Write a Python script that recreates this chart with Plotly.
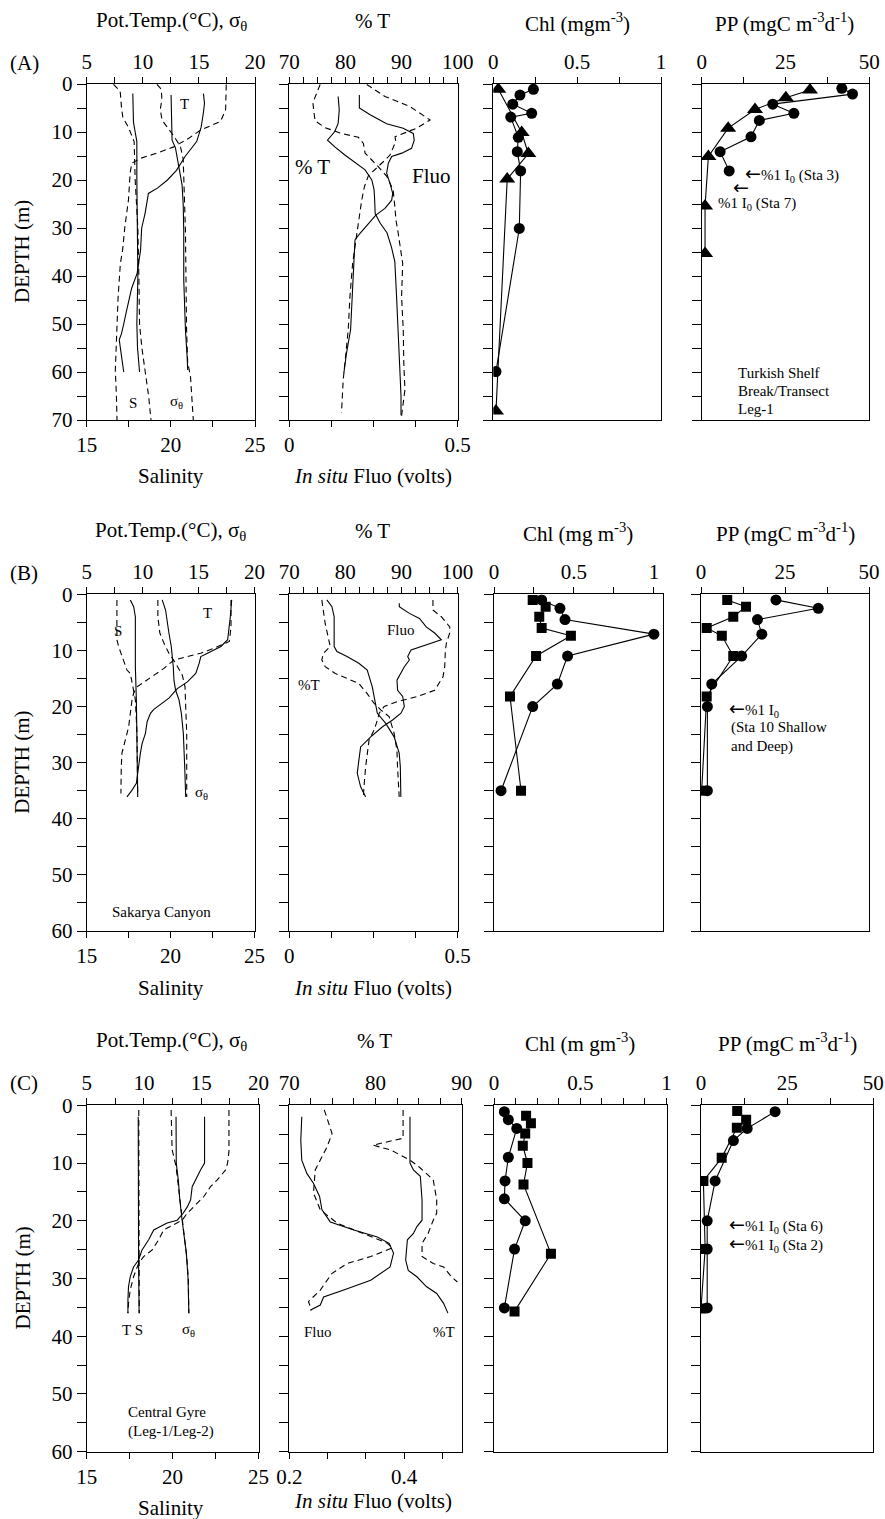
import plotly.graph_objects as go

FONT = "Liberation Serif"
W, H = 885, 1519

# ================= DATA =================
# ---- (A) Turkish shelf break / transect, Leg-1 ----
# potential temperature (deg C) vs depth (m)
A_TEMP_SOLID_D = [2, 4, 6, 9, 12, 15, 18, 20, 21.7, 22.8, 27, 30, 34.6, 37.4, 39.4, 42.6, 45, 47.8, 50, 52, 53.3, 56.8, 60]
A_TEMP_SOLID = [15.4, 15.5, 15.4, 15.2, 14.8, 13.8, 13.0, 12.2, 11.3, 10.5, 10.2, 9.9, 9.8, 9.6, 9.5, 9.0, 8.8, 8.5, 8.3, 8.1, 7.9, 8.1, 8.3]
A_TEMP_DASH_D = [0.1, 5.4, 7.8, 9.6, 11.3, 13.1, 14.4, 15.5, 16.5, 18.6, 24.2, 29.8, 34.6, 37.4, 44.3, 50, 54.7, 59.6, 65, 70]
A_TEMP_DASH = [17.44, 17.38, 16.93, 15.15, 14.10, 12.75, 11.26, 9.77, 9.02, 8.87, 8.72, 8.4, 8.2, 8.0, 7.8, 7.7, 7.6, 7.55, 7.65, 7.7]
# salinity
A_SAL_SOLID_D = [2, 8, 10, 12, 20, 30, 40, 50, 55, 60]
A_SAL_SOLID = [17.74, 17.78, 17.88, 17.98, 17.98, 18.02, 18.04, 17.98, 18.02, 18.14]
A_SAL_DASH_D = [0.1, 1.5, 5, 7, 9, 12, 20, 30, 40, 50, 55, 60, 65, 70]
A_SAL_DASH = [16.59, 16.99, 17.07, 17.15, 17.48, 17.82, 17.88, 18.04, 18.10, 18.14, 18.28, 18.48, 18.68, 18.82]
# sigma-theta
A_SIG_SOLID_D = [2.3, 6.6, 11.7, 13.3, 17, 21, 25, 30.6, 40.8, 51.2, 56.8, 59.6]
A_SIG_SOLID = [12.52, 12.55, 12.61, 12.91, 13.2, 13.5, 13.6, 13.65, 13.65, 13.8, 13.95, 14.0]
A_SIG_DASH_D = [0.1, 1.1, 3.2, 5.3, 7.3, 8, 10.8, 13, 15.6, 24, 30.6, 51, 58, 60.9, 66.5, 70]
A_SIG_DASH = [11.26, 11.65, 11.7, 11.56, 11.7, 11.86, 12.75, 13.35, 13.6, 13.7, 13.8, 13.9, 14.0, 14.25, 14.4, 14.5]
# beam transmission (%)
A_PT_SOLID_D = [2.6, 5.4, 8.2, 9.9, 11.7, 13.1, 14.8, 16.5, 17.9, 20, 22, 24, 27, 29, 31, 34, 37, 44, 51, 58, 65, 69]
A_PT_SOLID = [78.7, 78.9, 78.7, 78.1, 76.8, 78.1, 79.9, 82.0, 83.5, 84.7, 85.1, 85.2, 85.3, 86.2, 87.4, 88.2, 88.8, 89.1, 89.4, 89.6, 89.9, 89.9]
A_PT_DASH_D = [0.1, 1.8, 3.9, 6, 7.7, 9.1, 10.3, 11.1, 12.4, 14.4, 16.9, 19.3, 22.1, 25.5, 28.3, 31.1, 33.9, 37.4, 44.3, 51.2, 58.2, 63.7, 69.2]
A_PT_DASH = [75.5, 74.9, 74.2, 74.4, 74.6, 76.4, 79.3, 82.3, 83.2, 83.5, 85.6, 87.4, 88.5, 88.8, 89.0, 89.4, 89.7, 90.2, 90.0, 90.3, 90.4, 90.6, 90.0]
# in situ fluorescence (volts)
A_FL_SOLID_D = [2.3, 5, 6.4, 8.3, 9.2, 10.3, 11.7, 13.4, 14.4, 15.1, 16.5, 18.6, 20.7, 22.8, 24.2, 25.9, 27.3, 29, 31.1, 32.5, 37.4, 44.3, 51.2, 56, 60.2]
A_FL_SOLID = [0.208, 0.208, 0.24, 0.289, 0.338, 0.368, 0.371, 0.363, 0.334, 0.304, 0.294, 0.289, 0.299, 0.307, 0.304, 0.284, 0.257, 0.235, 0.21, 0.195, 0.192, 0.188, 0.182, 0.170, 0.162]
A_FL_DASH_D = [0.1, 2.6, 4.7, 7.5, 9.2, 11, 12, 14.8, 16.2, 17.4, 19.1, 21.4, 24.2, 27.6, 31.1, 33.9, 37.4, 44.3, 51.2, 58.2, 61.7, 68.5]
A_FL_DASH = [0.23, 0.284, 0.358, 0.418, 0.378, 0.314, 0.316, 0.299, 0.279, 0.26, 0.235, 0.223, 0.215, 0.208, 0.202, 0.195, 0.188, 0.180, 0.175, 0.165, 0.160, 0.155]
# bottle chlorophyll (mg m-3): Sta 3 (circles), Sta 7 (triangles)
A_CHL_STA3_D = [1.1, 2.3, 4.2, 6.1, 6.9, 11.1, 14.1, 18.1, 30.1, 59.9]
A_CHL_STA3 = [0.239, 0.159, 0.116, 0.229, 0.104, 0.149, 0.143, 0.163, 0.155, 0.016]
A_CHL_STA7_D = [1.1, 10.1, 14.5, 19.8, 68.1]
A_CHL_STA7 = [0.030, 0.169, 0.209, 0.083, 0.016]
# primary production (mgC m-3 d-1)
A_PP_STA3_D = [0.9, 2.1, 4.2, 6.1, 7.6, 11, 14.1, 18.1]
A_PP_STA3 = [41.8, 45.0, 21.2, 27.5, 17.2, 14.7, 5.5, 8.2]
A_PP_STA7_D = [1.25, 2.85, 5.3, 9.2, 15.1, 25.4, 35.3]
A_PP_STA7 = [32.3, 25.1, 15.9, 7.9, 2.0, 1.0, 1.0]

# ---- (B) Sakarya Canyon ----
B_TEMP_SOLID_D = [1.0, 4.0, 8.1, 9.3, 10.5, 11.1, 12.3, 14.1, 15.6, 16.8, 18.5, 19.7, 20.5, 21.2, 22.7, 24.8, 26.6, 28.3, 30.7, 33.7, 34.9, 36.1]
B_TEMP_SOLID = [17.96, 17.84, 17.6, 17.0, 15.8, 15.2, 15.05, 14.75, 14.0, 13.1, 12.35, 11.6, 11.0, 10.7, 10.4, 10.25, 9.95, 9.8, 9.65, 9.44, 9.05, 8.6]
B_TEMP_DASH_D = [1.0, 5.8, 8.4, 9.6, 10.5, 11.1, 11.7, 13.2, 14.4, 15.3, 16.5, 17.6, 18.8, 21.2, 23.6, 26.0, 28.3, 30.7, 35.5]
B_TEMP_DASH = [17.9, 17.9, 17.75, 16.4, 15.2, 14.0, 12.8, 11.9, 11.0, 10.4, 9.5, 9.2, 9.05, 8.9, 8.75, 8.45, 8.15, 8.09, 8.06]
B_SAL_SOLID_D = [1.0, 2.2, 4.0, 12.9, 18.8, 24.8, 36.1]
B_SAL_SOLID = [17.6, 17.8, 17.9, 17.9, 17.96, 18.0, 18.04]
B_SAL_DASH_D = [1.0, 8.1, 9.3, 11.1, 13.5, 14.1, 16.5, 18.8, 24.8, 36.1]
B_SAL_DASH = [16.8, 16.8, 16.9, 17.1, 17.4, 17.6, 17.76, 17.9, 18.0, 18.04]
B_SIG_SOLID_D = [1.0, 2.8, 6.9, 9.3, 12.9, 15.3, 17.1, 18.8, 21.2, 24.8, 30.7, 36.1]
B_SIG_SOLID = [11.75, 12.05, 12.35, 12.56, 12.74, 12.8, 12.95, 13.25, 13.46, 13.64, 13.76, 13.85]
B_SIG_DASH_D = [1.0, 4.0, 6.9, 8.7, 10.5, 12.3, 14.4, 16.5, 20.0, 24.8, 36.1]
B_SIG_DASH = [11.36, 11.36, 11.54, 11.9, 12.35, 12.95, 13.55, 13.79, 13.85, 13.94, 13.94]
B_PT_SOLID_D = [1.0, 2.2, 4.0, 9.3, 10.2, 11.1, 12.3, 13.5, 16.5, 19.4, 21.2, 23.0, 25.4, 28.3, 30.7, 36.1]
B_PT_SOLID = [76.7, 77.6, 78.0, 78.0, 78.5, 80.3, 82.4, 83.9, 84.8, 85.4, 85.7, 87.2, 88.7, 89.6, 89.8, 89.9]
B_PT_DASH_D = [1.0, 2.8, 5.2, 9.3, 10.5, 11.7, 12.9, 14.1, 15.0, 15.9, 17.7, 19.4, 20.6, 21.8, 24.8, 27.8, 30.7, 36.1]
B_PT_DASH = [75.8, 76.1, 76.4, 77.3, 76.1, 75.8, 76.4, 78.2, 80.3, 82.4, 83.9, 85.1, 86.3, 87.8, 88.7, 89.2, 89.3, 89.6]
B_FL_SOLID_D = [1.6, 2.2, 3.4, 4.3, 5.8, 6.9, 8.1, 9.9, 11.1, 11.7, 12.9, 14.1, 15.3, 17.1, 18.2, 20.0, 21.2, 22.4, 23.6, 25.4, 27.2, 29.5, 31.9, 34.3, 36.1]
B_FL_SOLID = [0.327, 0.327, 0.357, 0.387, 0.407, 0.432, 0.452, 0.362, 0.352, 0.357, 0.342, 0.332, 0.32, 0.322, 0.337, 0.342, 0.332, 0.307, 0.277, 0.242, 0.212, 0.207, 0.202, 0.212, 0.227]
B_FL_DASH_D = [1.0, 2.8, 4.0, 5.8, 6.9, 8.7, 9.9, 12.9, 14.7, 17.1, 18.2, 19.1, 20.0, 21.2, 22.4, 24.2, 26.0, 28.3, 30.7, 34.3, 36.1]
B_FL_DASH = [0.427, 0.427, 0.452, 0.477, 0.477, 0.467, 0.464, 0.462, 0.457, 0.432, 0.382, 0.322, 0.282, 0.267, 0.262, 0.252, 0.237, 0.232, 0.227, 0.222, 0.220]
# Sta 10: squares and circles
B_SQ_D = [1.0, 2.2, 4.0, 6.0, 7.4, 11.0, 18.2, 35.0]
B_CI_D = [1.0, 2.5, 4.5, 7.1, 11.0, 16.0, 20.0, 35.0]
B_CHL_SQ = [0.242, 0.323, 0.283, 0.298, 0.481, 0.263, 0.1, 0.169]
B_CHL_CI = [0.298, 0.4125, 0.444, 1.0, 0.46, 0.396, 0.242, 0.044]
B_PP_SQ = [7.8, 13.4, 9.6, 1.7, 6.2, 9.6, 1.7, 0.2]
B_PP_CI = [22.3, 34.9, 16.8, 18.1, 12.1, 3.2, 1.9, 1.9]

# ---- (C) Central Gyre, Leg-1/Leg-2 ----
C_TEMP_SOLID_D = [2.0, 10.0, 11.2, 12.9, 14.1, 16.4, 17.6, 18.7, 19.9, 20.4, 21.6, 23.3, 25.1, 26.8, 28.0, 29.7, 31.4, 33.7, 36.0]
C_TEMP_SOLID = [15.29, 15.29, 14.94, 14.5, 14.21, 14.07, 13.78, 13.42, 12.9, 12.02, 10.85, 10.41, 9.82, 9.53, 9.09, 8.8, 8.65, 8.6, 8.6]
C_TEMP_DASH_D = [0.8, 8.0, 10.0, 11.2, 12.9, 14.1, 15.8, 17.6, 18.7, 19.9, 21.0, 21.6, 23.3, 25.1, 26.2, 27.4, 29.7, 32.0, 34.3, 36.0]
C_TEMP_DASH = [17.42, 17.42, 17.3, 17.13, 16.4, 15.81, 15.23, 14.36, 13.78, 13.33, 12.31, 11.72, 11.28, 10.7, 9.97, 9.53, 9.09, 8.8, 8.65, 8.6]
C_SAL_SOLID_D = [2.0, 20.0, 27.0, 36.0]
C_SAL_SOLID = [18.0, 18.0, 18.02, 18.05]
C_SAL_DASH_D = [0.8, 10.0, 20.0, 30.0, 36.0]
C_SAL_DASH = [18.03, 18.03, 18.04, 18.05, 18.06]
C_SIG_SOLID_D = [2.0, 10.0, 13.0, 16.4, 19.9, 22.2, 25.6, 30.0, 36.0]
C_SIG_SOLID = [12.8, 12.82, 13.0, 13.13, 13.33, 13.48, 13.7, 13.85, 13.92]
C_SIG_DASH_D = [0.8, 7.7, 10.6, 14.1, 18.0, 20.0, 22.2, 26.0, 30.0, 36.0]
C_SIG_DASH = [12.37, 12.46, 12.8, 13.0, 13.2, 13.33, 13.5, 13.72, 13.87, 13.92]
C_PT_SOLID_D = [2.0, 10.0, 11.2, 12.3, 16.4, 19.9, 21.0, 22.2, 23.3, 26.8, 28.6, 29.7, 31.4, 32.6, 34.3, 36.0]
C_PT_SOLID = [84.0, 84.0, 84.4, 85.2, 85.4, 85.4, 84.8, 84.4, 83.7, 83.5, 83.8, 84.8, 85.9, 87.1, 87.9, 88.4]
C_PT_DASH_D = [0.8, 5.7, 6.9, 7.7, 9.5, 10.6, 12.9, 16.4, 18.7, 19.9, 22.2, 23.9, 26.2, 27.4, 28.0, 29.7, 30.6]
C_PT_DASH = [83.2, 83.2, 79.7, 81.7, 84.0, 85.0, 86.7, 87.1, 87.1, 86.7, 86.1, 85.4, 85.4, 86.7, 87.9, 88.8, 89.5]
C_FL_SOLID_D = [2.0, 6.1, 9.5, 11.8, 13.5, 15.8, 18.1, 20.2, 21.6, 22.8, 23.9, 25.6, 28.0, 30.3, 32.0, 33.2, 34.6, 35.5]
C_FL_SOLID = [0.2217, 0.22, 0.2217, 0.2305, 0.242, 0.2527, 0.2568, 0.2714, 0.3123, 0.3533, 0.3737, 0.3814, 0.3754, 0.3416, 0.2947, 0.2597, 0.2539, 0.2363]
C_FL_DASH_D = [0.8, 4.9, 7.2, 9.5, 11.2, 15.2, 18.1, 20.4, 22.2, 23.9, 24.7, 26.2, 27.4, 29.1, 32.0, 34.0, 35.5]
C_FL_DASH = [0.2609, 0.2744, 0.2656, 0.2539, 0.2451, 0.2421, 0.2539, 0.2832, 0.3298, 0.3709, 0.3796, 0.3416, 0.3007, 0.2744, 0.2539, 0.2333, 0.2393]
C_CHL_CI_D = [1.1, 2.5, 4.0, 9.0, 13.1, 16.2, 20.0, 24.9, 35.1]
C_CHL_CI = [0.060, 0.083, 0.132, 0.083, 0.064, 0.060, 0.181, 0.119, 0.060]
C_CHL_SQ_D = [1.8, 3.1, 4.9, 7.0, 10.0, 13.7, 25.7, 35.7]
C_CHL_SQ = [0.186, 0.214, 0.181, 0.167, 0.194, 0.171, 0.330, 0.119]
C_PP_CI_D = [1.1, 4.0, 6.1, 13.1, 20.0, 24.9, 35.1]
C_PP_CI = [21.5, 13.4, 9.4, 4.1, 1.8, 1.8, 1.8]
C_PP_SQ_D = [1.0, 2.5, 3.9, 9.1, 13.1, 24.9, 35.2]
C_PP_SQ = [10.5, 13.1, 10.4, 6.0, 0.7, 1.2, 0.0]

# ================= LAYOUT GEOMETRY (pixels) =================
ROW_Y = {"A": (84, 420), "B": (594.3, 931), "C": (1105.3, 1451.7)}
DEPTH_MAX = {"A": 70, "B": 60, "C": 60}
PANEL_X = {
    "A": [(86.7, 255), (289.3, 457.7), (493.3, 661), (701.7, 869.3)],
    "B": [(86.7, 254.5), (289.3, 457.5), (494, 662.7), (701, 869)],
    "C": [(86.7, 258.5), (289.3, 461.7), (494, 666.5), (701, 873.3)],
}


def fx(px):
    return px / W


def fy(py):
    return 1 - py / H


def axis_spec(rng, vals, text, minor):
    return dict(range=rng, tickvals=vals, ticktext=text, minor=minor)


TEMP_TOP = axis_spec([5, 20], [5, 10, 15, 20], ["5", "10", "15", "20"], [7.5, 12.5, 17.5])
SAL_BOT = axis_spec([15, 25], [15, 20, 25], ["15", "20", "25"], [17.5, 22.5])
PT_TOP = axis_spec([70, 100], [70, 80, 90, 100], ["70", "80", "90", "100"],
                   [72.5, 75, 77.5, 82.5, 85, 87.5, 92.5, 95, 97.5])
PT_TOP_C = axis_spec([70, 90], [70, 80, 90], ["70", "80", "90"], [72.5, 75, 77.5, 82.5, 85, 87.5])
FL_BOT = axis_spec([0, 0.5], [0, 0.5], ["0", "0.5"], [0.125, 0.25, 0.375])
FL_BOT_C = axis_spec([0.2, 0.5], [0.2, 0.4], ["0.2", "0.4"], [0.2667, 0.3333, 0.4667])
CHL_TOP = axis_spec([0, 1], [0, 0.5, 1], ["0", "0.5", "1"], [0.25, 0.75])
CHL_TOP_B = axis_spec([0, 1.055], [0, 0.5, 1], ["0", "0.5", "1"], [0.25, 0.75])
CHL_TOP_C = axis_spec([0, 1], [0, 0.5, 1], ["0", "0.5", "1"], [0.125, 0.25, 0.375, 0.625, 0.75, 0.875])
PP_TOP = axis_spec([0, 50], [0, 25, 50], ["0", "25", "50"], [12.5, 37.5])

fig = go.Figure()
axes = {}
count = {"x": 0, "y": 0}
TICKFONT = dict(family=FONT, size=21, color="black")


def new_axis(letter):
    count[letter] += 1
    i = count[letter]
    suffix = "" if i == 1 else str(i)
    return f"{letter}axis{suffix}", f"{letter}{suffix}"


def x_axis(spec, x0, x1, side, anchor, overlay=None):
    d = dict(
        domain=[fx(x0), fx(x1)], range=spec["range"], side=side, anchor=anchor,
        tickmode="array", tickvals=spec["tickvals"], ticktext=spec["ticktext"],
        ticks="outside", ticklen=6, tickwidth=1, tickcolor="black",
        minor=dict(tickmode="array", tickvals=spec["minor"], ticks="outside",
                   ticklen=6, tickwidth=1, tickcolor="black", showgrid=False),
        showline=True, linecolor="black", linewidth=1, mirror=True,
        showgrid=False, zeroline=False, tickfont=TICKFONT, fixedrange=True,
        automargin=False,
    )
    if overlay:
        d["overlaying"] = overlay
    return d


def make_panel(row, col, top, bottom=None):
    y0, y1 = ROW_Y[row]
    x0, x1 = PANEL_X[row][col]
    dmax = DEPTH_MAX[row]
    yname, yref = new_axis("y")
    xname, xref = new_axis("x")
    axes[yname] = dict(
        domain=[fy(y1), fy(y0)], range=[dmax, 0], anchor=xref, side="left",
        tickmode="array", tickvals=list(range(0, dmax + 1, 10)),
        ticks="outside", ticklen=9, tickwidth=1, tickcolor="black",
        minor=dict(tickmode="array", tickvals=list(range(5, dmax, 10)), ticks="outside",
                   ticklen=9, tickwidth=1, tickcolor="black", showgrid=False),
        showticklabels=(col == 0), ticklabelstandoff=0,
        showline=True, linecolor="black", linewidth=1, mirror=True,
        showgrid=False, zeroline=False, tickfont=TICKFONT, fixedrange=True,
        automargin=False,
    )
    axes[xname] = x_axis(top, x0, x1, "top", yref)
    bref = None
    if bottom is not None:
        bname, bref = new_axis("x")
        axes[bname] = x_axis(bottom, x0, x1, "bottom", yref, overlay=xref)
    return xref, bref, yref


def profile(vals, depths, xr, yr, dashed=False):
    fig.add_trace(go.Scatter(
        x=vals, y=depths, xaxis=xr, yaxis=yr, mode="lines",
        line=dict(color="black", width=1.1, dash="6px,4px" if dashed else "solid"),
        hoverinfo="skip", showlegend=False))


def samples(vals, depths, xr, yr, symbol, size):
    fig.add_trace(go.Scatter(
        x=vals, y=depths, xaxis=xr, yaxis=yr, mode="lines+markers",
        line=dict(color="black", width=1.1),
        marker=dict(symbol=symbol, size=size, color="black", line=dict(width=0)),
        hoverinfo="skip", showlegend=False))


notes = []


def text(s, px, py, size=21, xanchor="center", angle=0):
    notes.append(dict(text=s, x=fx(px), y=fy(py), xref="paper", yref="paper",
                      xanchor=xanchor, yanchor="middle", showarrow=False, textangle=angle,
                      font=dict(family=FONT, size=size, color="black")))


ARROW = "<span style='font-family:DejaVu Sans;font-size:19px'>←</span>"

# ---------- row A ----------
xt, xb, y = make_panel("A", 0, TEMP_TOP, SAL_BOT)
profile(A_TEMP_SOLID, A_TEMP_SOLID_D, xt, y)
profile(A_TEMP_DASH, A_TEMP_DASH_D, xt, y, True)
profile(A_SIG_SOLID, A_SIG_SOLID_D, xt, y)
profile(A_SIG_DASH, A_SIG_DASH_D, xt, y, True)
profile(A_SAL_SOLID, A_SAL_SOLID_D, xb, y)
profile(A_SAL_DASH, A_SAL_DASH_D, xb, y, True)

xt, xb, y = make_panel("A", 1, PT_TOP, FL_BOT)
profile(A_PT_SOLID, A_PT_SOLID_D, xt, y)
profile(A_PT_DASH, A_PT_DASH_D, xt, y, True)
profile(A_FL_SOLID, A_FL_SOLID_D, xb, y)
profile(A_FL_DASH, A_FL_DASH_D, xb, y, True)

xt, _, y = make_panel("A", 2, CHL_TOP)
samples(A_CHL_STA3, A_CHL_STA3_D, xt, y, "circle", 11)
samples(A_CHL_STA7, A_CHL_STA7_D, xt, y, "triangle-up", 14)

xt, _, y = make_panel("A", 3, PP_TOP)
samples(A_PP_STA3, A_PP_STA3_D, xt, y, "circle", 11)
samples(A_PP_STA7, A_PP_STA7_D, xt, y, "triangle-up", 14)

# ---------- row B ----------
xt, xb, y = make_panel("B", 0, TEMP_TOP, SAL_BOT)
profile(B_TEMP_SOLID, B_TEMP_SOLID_D, xt, y)
profile(B_TEMP_DASH, B_TEMP_DASH_D, xt, y, True)
profile(B_SIG_SOLID, B_SIG_SOLID_D, xt, y)
profile(B_SIG_DASH, B_SIG_DASH_D, xt, y, True)
profile(B_SAL_SOLID, B_SAL_SOLID_D, xb, y)
profile(B_SAL_DASH, B_SAL_DASH_D, xb, y, True)

xt, xb, y = make_panel("B", 1, PT_TOP, FL_BOT)
profile(B_PT_SOLID, B_PT_SOLID_D, xt, y)
profile(B_PT_DASH, B_PT_DASH_D, xt, y, True)
profile(B_FL_SOLID, B_FL_SOLID_D, xb, y)
profile(B_FL_DASH, B_FL_DASH_D, xb, y, True)

xt, _, y = make_panel("B", 2, CHL_TOP_B)
samples(B_CHL_SQ, B_SQ_D, xt, y, "square", 10)
samples(B_CHL_CI, B_CI_D, xt, y, "circle", 11)

xt, _, y = make_panel("B", 3, PP_TOP)
samples(B_PP_SQ, B_SQ_D, xt, y, "square", 10)
samples(B_PP_CI, B_CI_D, xt, y, "circle", 11)

# ---------- row C ----------
xt, xb, y = make_panel("C", 0, TEMP_TOP, SAL_BOT)
profile(C_TEMP_SOLID, C_TEMP_SOLID_D, xt, y)
profile(C_TEMP_DASH, C_TEMP_DASH_D, xt, y, True)
profile(C_SIG_SOLID, C_SIG_SOLID_D, xt, y)
profile(C_SIG_DASH, C_SIG_DASH_D, xt, y, True)
profile(C_SAL_SOLID, C_SAL_SOLID_D, xb, y)
profile(C_SAL_DASH, C_SAL_DASH_D, xb, y, True)

xt, xb, y = make_panel("C", 1, PT_TOP_C, FL_BOT_C)
profile(C_PT_SOLID, C_PT_SOLID_D, xt, y)
profile(C_PT_DASH, C_PT_DASH_D, xt, y, True)
profile(C_FL_SOLID, C_FL_SOLID_D, xb, y)
profile(C_FL_DASH, C_FL_DASH_D, xb, y, True)

xt, _, y = make_panel("C", 2, CHL_TOP_C)
samples(C_CHL_CI, C_CHL_CI_D, xt, y, "circle", 11)
samples(C_CHL_SQ, C_CHL_SQ_D, xt, y, "square", 10)

xt, _, y = make_panel("C", 3, PP_TOP)
samples(C_PP_CI, C_PP_CI_D, xt, y, "circle", 11)
samples(C_PP_SQ, C_PP_SQ_D, xt, y, "square", 10)

# ---------- text ----------
TITLE_Y = {"A": 21, "B": 531, "C": 1041}
TITLE_X = {"A": [171, 372, 577, 784], "B": [170, 372, 578, 785], "C": [171, 374, 580, 787]}
CHL_TITLE = {"A": "Chl (mgm<sup>-3</sup>)", "B": "Chl (mg m<sup>-3</sup>)", "C": "Chl (m gm<sup>-3</sup>)"}
for r in "ABC":
    ty = TITLE_Y[r]
    tx = TITLE_X[r]
    text("Pot.Temp.(°C), σ<sub>θ</sub>", tx[0], ty)
    text("% T", tx[1], ty)
    text(CHL_TITLE[r], tx[2], ty + 1)
    text("PP (mgC m<sup>-3</sup>d<sup>-1</sup>)", tx[3], ty + 1)
    text(f"({r})", 24, ty + 42)
    y0, y1 = ROW_Y[r]
    text("DEPTH (m)", 22, (y0 + y1) / 2, size=21, angle=-90)

BOTTOM_Y = {"A": (476, 476), "B": (988, 988), "C": (1508, 1501)}
for r in "ABC":
    text("Salinity", 171, BOTTOM_Y[r][0])
    text("<i>In situ</i> Fluo (volts)", 373, BOTTOM_Y[r][1])

# row A labels
text("T", 184, 104, size=15)
text("S", 133, 403, size=15)
text("σ<sub>θ</sub>", 176, 402, size=15)
text("% T", 312, 167, size=21)
text("Fluo", 431, 176, size=21)
text(ARROW + "%1 I<sub>0</sub> (Sta 3)", 743, 173, size=15, xanchor="left")
text(ARROW, 741, 187, size=15)
text("%1 I<sub>0</sub> (Sta 7)", 716, 204, size=15, xanchor="left")
text("Turkish Shelf", 736, 373, size=15, xanchor="left")
text("Break/Transect", 736, 391, size=15, xanchor="left")
text("Leg-1", 736, 409, size=15, xanchor="left")

# row B labels
text("T", 207, 613, size=15)
text("S", 118, 631, size=15)
text("σ<sub>θ</sub>", 201, 793, size=15)
text("Sakarya Canyon", 161, 912, size=15)
text("Fluo", 401, 630, size=15)
text("%T", 309, 685, size=15)
text(ARROW + "%1 I<sub>0</sub>", 727, 708, size=15, xanchor="left")
text("(Sta 10 Shallow", 729, 727, size=15, xanchor="left")
text("and Deep)", 729, 746, size=15, xanchor="left")

# row C labels
text("T S", 132, 1330, size=15)
text("σ<sub>θ</sub>", 188, 1330, size=15)
text("Central Gyre", 126, 1412, size=15, xanchor="left")
text("(Leg-1/Leg-2)", 126, 1431, size=15, xanchor="left")
text("Fluo", 318, 1332, size=15)
text("%T", 444, 1332, size=15)
text(ARROW + "%1 I<sub>0</sub> (Sta 6)", 727, 1224, size=15, xanchor="left")
text(ARROW + "%1 I<sub>0</sub> (Sta 2)", 727, 1243, size=15, xanchor="left")

fig.update_layout(
    template="none",
    width=W, height=H, autosize=False,
    margin=dict(l=0, r=0, t=0, b=0, pad=0),
    paper_bgcolor="white", plot_bgcolor="white",
    showlegend=False, annotations=notes,
    font=dict(family=FONT, color="black"),
    **axes,
)

fig.write_html("out.html", config={"displayModeBar": False})
